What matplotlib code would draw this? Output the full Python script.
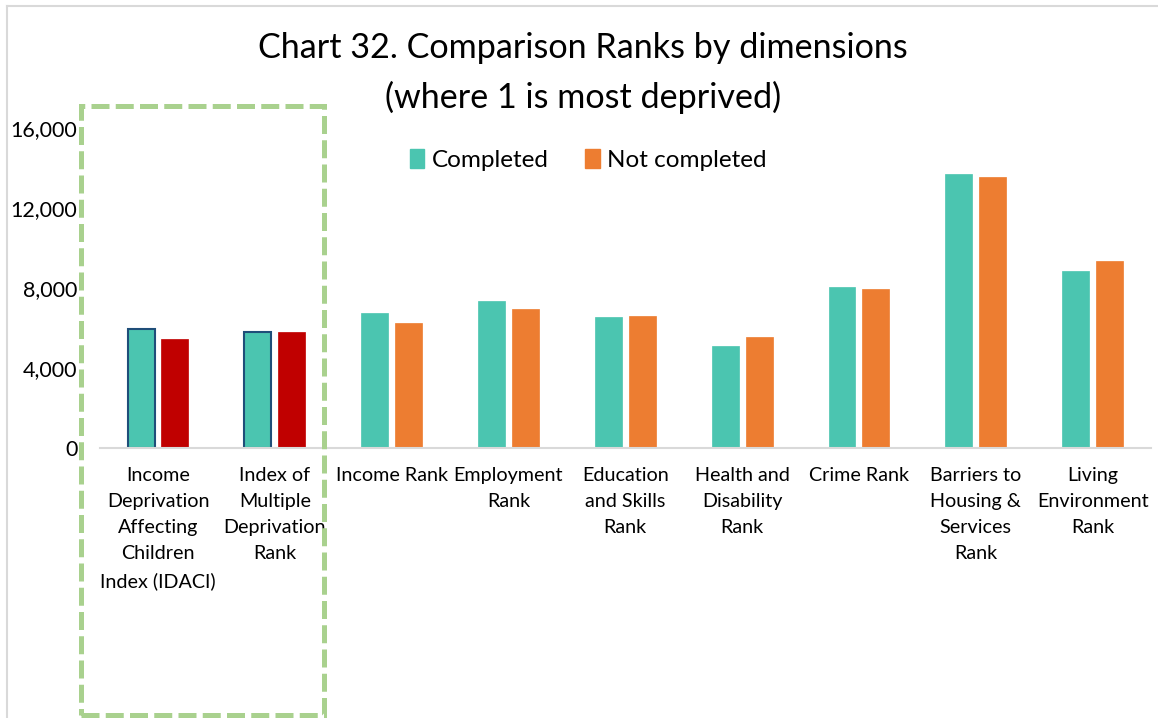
import matplotlib
matplotlib.use("Agg")
import matplotlib.pyplot as plt
import numpy as np
from matplotlib.patches import Rectangle, Patch
from matplotlib.lines import Line2D

categories = [
    "Income\nDeprivation\nAffecting\nChildren\nIndex (IDACI)",
    "Index of\nMultiple\nDeprivation\nRank",
    "Income Rank",
    "Employment\nRank",
    "Education\nand Skills\nRank",
    "Health and\nDisability\nRank",
    "Crime Rank",
    "Barriers to\nHousing &\nServices\nRank",
    "Living\nEnvironment\nRank",
]
completed = [5960, 5820, 6770, 7330, 6550, 5120, 8070, 13680, 8870]
not_completed = [5450, 5780, 6250, 6970, 6600, 5530, 7950, 13570, 9370]
yticks = [0, 4000, 8000, 12000, 16000]
series_names = ["Completed", "Not completed"]

TEAL = "#4BC5B0"
ORANGE = "#ED7D31"
RED = "#C00000"
EDGE = "#1F4E79"
GREEN = "#A9D18E"
GRID = "#D9D9D9"

plt.rcParams['font.family'] = ['Lato', 'DejaVu Sans']

W, H = 1158, 718
fig = plt.figure(figsize=(W / 100, H / 100), dpi=100)
ax = fig.add_axes([99.6 / W, 1 - 448 / H, (1151 - 99.6) / W, (448 - 128) / H])

x = np.arange(len(categories))
bw = 0.231
off = 0.145
for i in x:
    highlighted = i < 2
    ax.bar(i - off, completed[i], bw, color=TEAL,
           edgecolor=EDGE if highlighted else TEAL,
           linewidth=1.5 if highlighted else 0.5, zorder=2)
    ax.bar(i + off, not_completed[i], bw,
           color=RED if highlighted else ORANGE,
           edgecolor=RED if highlighted else ORANGE, linewidth=0.5, zorder=2)

ax.set_xlim(-0.5, len(categories) - 0.5)
ax.set_ylim(0, 16000)
ax.set_yticks(yticks)
ax.set_yticklabels([f"{v:,}" for v in yticks], fontsize=15.5, color="#000000")
ax.set_xticks(x)
ax.set_xticklabels(categories, fontsize=14.2, linespacing=1.64, va="top")
ax.tick_params(axis="both", length=0)
ax.tick_params(axis="y", pad=16)
ax.tick_params(axis="x", pad=14)
for s in ["top", "right", "left"]:
    ax.spines[s].set_visible(False)
ax.spines["bottom"].set_color(GRID)
ax.spines["bottom"].set_linewidth(1.5)
ax.patch.set_alpha(0)

# Title
fig.text(583 / W, 1 - 48 / H, "Chart 32. Comparison Ranks by dimensions",
         ha="center", va="center", fontsize=24.6)
fig.text(583 / W, 1 - 97 / H, "(where 1 is most deprived)",
         ha="center", va="center", fontsize=24.6)

# Legend
handles = [Patch(facecolor=TEAL, edgecolor=TEAL), Patch(facecolor=ORANGE, edgecolor=ORANGE)]
fig.legend(handles, series_names, loc="center", bbox_to_anchor=(588 / W, 1 - 160 / H),
           ncol=2, frameon=False, fontsize=17.5, handlelength=0.6, handleheight=0.8,
           handletextpad=0.3, columnspacing=1.5)

# Chart border (top and left)
fig.add_artist(Line2D([7 / W, 1], [1 - 5.5 / H, 1 - 5.5 / H], transform=fig.transFigure,
                      color=GRID, linewidth=1.5))
fig.add_artist(Line2D([7 / W, 7 / W], [0, 1 - 5.5 / H], transform=fig.transFigure,
                      color=GRID, linewidth=1.5))

# Green dashed highlight box
rect = Rectangle((81 / W, 1 - 715 / H), (324 - 81) / W, (715 - 106) / H,
                 transform=fig.transFigure, fill=False, edgecolor=GREEN,
                 linewidth=3.6, linestyle=(0, (3.6, 1.25)), zorder=10)
fig.add_artist(rect)

fig.savefig("out.png", dpi=100)
